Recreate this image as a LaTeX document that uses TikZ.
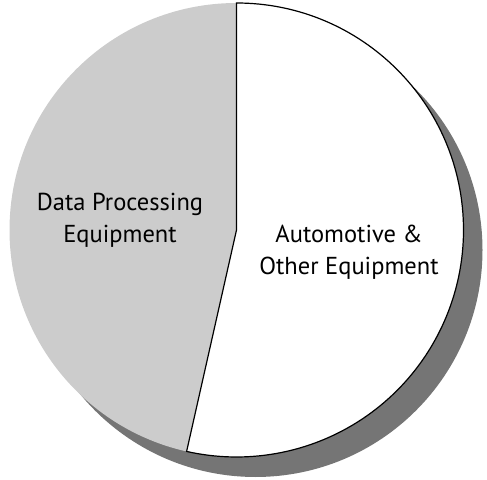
\documentclass[tikz,border=0pt]{standalone}
\usepackage{fontspec}
\setmainfont{PT Sans}
\begin{document}
\begin{tikzpicture}[x=1pt,y=1pt,
  lbl/.style={align=center,font=\fontsize{24.5}{32}\selectfont,inner sep=0pt}]
\useasboundingbox (0,0) rectangle (487,479);
\def\R{227}
\coordinate (c) at (236.5,249);
\coordinate (s) at (255.5,229);
% shadow
\fill[fill={rgb,255:red,117;green,117;blue,117}] (s) circle[radius=\R];
% gray slice
\fill[fill={rgb,255:red,204;green,204;blue,204}] (c) -- ++(90:\R) arc[start angle=90,end angle=257.3,radius=\R] -- cycle;
% white slice
\draw[fill=white,line width=1.2pt,line join=miter] (c) -- ++(90:\R) arc[start angle=90,end angle=-102.7,radius=\R] -- cycle;
\node[lbl] (dp) at (120,259) {Data Processing\\Equipment};
\node[lbl] (au) at (349,227) {Automotive \&\\Other Equipment};
\end{tikzpicture}
\end{document}
